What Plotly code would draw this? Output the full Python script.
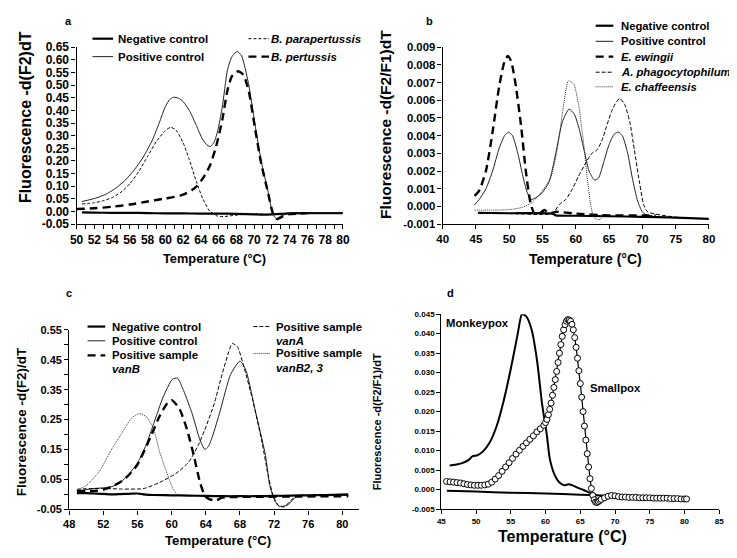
import plotly.graph_objects as go

FONT = "Liberation Sans, Arial, sans-serif"

# ---------------- Panel a ----------------
a_neg_x = [50.6, 52, 54, 56, 58, 60, 62, 64, 66, 68, 70, 71, 72, 73, 74, 76, 78, 80]
a_neg_y = [-0.003, -0.004, -0.005, -0.005, -0.006, -0.007, -0.007, -0.008, -0.008, -0.009,
           -0.011, -0.012, -0.011, -0.009, -0.007, -0.006, -0.006, -0.006]
a_pos_x = [50.6, 51.5, 52.5, 53.5, 54.5, 55.5, 56.5, 57.5, 58.5, 59.3, 60.0, 60.5, 60.9, 61.5,
           62.0, 62.7, 63.5, 64.2, 64.8, 65.1, 65.5, 65.9, 66.4, 67.0, 67.5, 68.1, 68.6, 69.0,
           69.4, 70.1, 70.8, 71.6, 72.1, 72.5, 73.0, 74.0, 75.0, 76, 78, 80]
a_pos_y = [0.040, 0.047, 0.057, 0.072, 0.095, 0.125, 0.165, 0.215, 0.280, 0.350, 0.415, 0.443,
           0.452, 0.448, 0.435, 0.400, 0.340, 0.285, 0.260, 0.258, 0.275, 0.320, 0.410, 0.560,
           0.612, 0.633, 0.615, 0.565, 0.500, 0.345, 0.200, 0.075, -0.010, -0.027, -0.018,
           -0.006, -0.004, -0.005, -0.005, -0.006]
a_para_x = [50.6, 52, 53, 54, 55, 56, 57, 58, 59, 60, 60.6, 61.2, 62, 62.7, 63.5, 64.2, 65.0,
            65.8, 66.5, 67.5, 68.5, 69.5, 70.5, 71.5, 72.2, 72.7, 73.3, 74, 75, 76]
a_para_y = [0.030, 0.035, 0.043, 0.055, 0.077, 0.110, 0.158, 0.218, 0.278, 0.320, 0.333, 0.322,
            0.272, 0.205, 0.118, 0.052, 0.002, -0.017, -0.020, -0.016, -0.012, -0.010, -0.010,
            -0.011, -0.010, -0.009, -0.008, -0.007, -0.006, -0.006]
a_pert_x = [50.0, 52, 54, 56, 58, 60, 61, 62, 63, 63.6, 64.2, 65.0, 65.7, 66.4, 67.0, 67.5, 68.2,
            68.8, 69.4, 70.1, 70.8, 71.6, 72.1, 72.6, 73.2, 74.0, 75, 76]
a_pert_y = [0.010, 0.013, 0.019, 0.028, 0.040, 0.052, 0.058, 0.067, 0.085, 0.103, 0.130, 0.180,
            0.255, 0.360, 0.480, 0.535, 0.555, 0.540, 0.475, 0.330, 0.190, 0.070, -0.005,
            -0.030, -0.020, -0.010, -0.008, -0.006]

# ---------------- Panel b ----------------
b_neg_x = [45.3, 50, 56.5, 57.0, 60, 65, 70, 75, 80]
b_neg_y = [-0.00035, -0.00038, -0.00040, -0.00050, -0.00052, -0.00055, -0.00058, -0.00063, -0.00070]
b_pos_x = [44.8, 45.5, 46.5, 47.5, 48.5, 49.3, 49.9, 50.5, 51.3, 52.0, 52.7, 53.3, 54.0, 55.0,
           56.0, 57.0, 58.0, 59.0, 59.8, 60.5, 61.3, 62.0, 62.8, 63.4, 64.2, 65.0, 65.8, 66.4,
           67.0, 67.8, 68.5, 69.3, 70.0, 70.7, 71.5]
b_pos_y = [0.0001, 0.0004, 0.0010, 0.0020, 0.0033, 0.0040, 0.0042, 0.0040, 0.0030, 0.0018,
           0.0008, 0.0004, 0.0005, 0.0008, 0.0014, 0.0030, 0.0048, 0.0055, 0.0052, 0.0044,
           0.0031, 0.0020, 0.0015, 0.0016, 0.0025, 0.0035, 0.0041, 0.0042, 0.0040, 0.0030,
           0.0016, 0.0003, -0.0003, -0.0005, -0.0005]
b_ewi_x = [44.8, 45.5, 46.5, 47.5, 48.5, 49.3, 49.8, 50.3, 51.0, 51.8, 52.5, 53.2, 53.8, 54.5,
           55.3, 56.0, 57.0, 60, 65, 70, 72]
b_ewi_y = [0.0006, 0.0009, 0.0020, 0.0042, 0.0068, 0.0082, 0.0085, 0.0082, 0.0068, 0.0045,
           0.0020, 0.0002, -0.0004, -0.0004, -0.0002, -0.0004, -0.0003, -0.0004, -0.0005,
           -0.0005, -0.0005]
b_pha_x = [45.5, 50, 55, 56.5, 57.5, 58.5, 59.5, 60.4, 61.4, 62.4, 63.2, 63.9, 64.6, 65.4, 66.1,
           66.6, 67.3, 68.1, 68.8, 69.6, 70.2, 70.8, 75, 80]
b_pha_y = [-0.0004, -0.0004, -0.00045, -0.0004, 0.0001, 0.0004, 0.0010, 0.0017, 0.0024, 0.0030,
           0.0032, 0.0037, 0.0045, 0.0054, 0.0059, 0.0061, 0.0058, 0.0048, 0.0032, 0.0013,
           0.0001, -0.0003, -0.0006, -0.0007]
b_cha_x = [44.8, 48.6, 50.6, 52.1, 53.5, 55.0, 56.3, 57.2, 58.2, 58.9, 59.7, 60.4, 61.2, 61.7,
           62.2, 62.7, 63.4, 63.8, 64.0]
b_cha_y = [-0.0002, -0.0002, -0.00015, -0.00003, 0.00025, 0.0009, 0.0017, 0.0032, 0.0058,
           0.0071, 0.0069, 0.0058, 0.0035, 0.0017, 0.0002, -0.0006, -0.00075, -0.0007, -0.0004]

# ---------------- Panel c ----------------
c_neg_x = [48.9, 50, 51, 52, 53, 54, 55, 56, 57, 58, 60, 62, 64, 66, 68, 70, 72, 74, 76, 78, 80.7]
c_neg_y = [0.004, 0.004, 0.003, 0.002, 0.000, 0.001, 0.002, 0.003, -0.001, -0.002, -0.003,
           -0.004, -0.005, -0.006, -0.006, -0.006, -0.005, -0.004, -0.003, -0.002, 0.000]
c_pos_x = [48.9, 50, 51, 52, 53, 54, 55, 56, 57, 58, 59, 60.1, 60.7, 61.4, 62.4, 63.3, 63.9,
           64.3, 64.8, 65.7, 66.9, 68.0, 68.7, 69.8, 71.0, 71.5, 72.1, 72.6, 73.6, 74.7, 75.4,
           78, 80.7]
c_pos_y = [0.012, 0.016, 0.020, 0.022, 0.026, 0.040, 0.068, 0.105, 0.165, 0.245, 0.325, 0.385,
           0.388, 0.347, 0.270, 0.184, 0.150, 0.160, 0.195, 0.280, 0.400, 0.445, 0.415, 0.280,
           0.130, 0.030, -0.022, -0.040, -0.035, -0.005, -0.003, -0.004, -0.003]
c_vanb_x = [48.9, 50, 51, 52, 53, 54.2, 55, 56, 57.5, 58.6, 59.5, 60.0, 60.9, 61.8, 62.6, 63.3,
            63.9, 64.4, 65.2, 65.9, 66.5, 70, 75, 80.7]
c_vanb_y = [0.010, 0.011, 0.012, 0.016, 0.026, 0.045, 0.065, 0.100, 0.190, 0.262, 0.305, 0.315,
            0.287, 0.217, 0.130, 0.043, -0.005, -0.016, -0.020, -0.011, -0.009, -0.008,
            -0.007, -0.006]
c_vana_x = [48.9, 50, 52, 54, 56, 56.8, 58.6, 60.5, 62, 63.1, 63.9, 65, 65.9, 66.7, 67.1, 67.7,
            68.5, 69.5, 70.6, 71.3, 71.9, 72.5, 73.2, 73.9, 74.7, 77, 80.7]
c_vana_y = [0.017, 0.019, 0.020, 0.018, 0.018, 0.020, 0.040, 0.070, 0.108, 0.163, 0.217, 0.304,
            0.400, 0.477, 0.504, 0.494, 0.423, 0.315, 0.173, 0.065, -0.005, -0.036, -0.042,
            -0.022, -0.005, -0.003, -0.003]
c_vanb23_x = [48.9, 50, 51.5, 53, 54.2, 55.3, 56.2, 57.1, 57.9, 58.6, 59.4, 60.1, 60.6]
c_vanb23_y = [0.015, 0.030, 0.076, 0.152, 0.206, 0.255, 0.270, 0.258, 0.217, 0.141, 0.076,
              0.022, 0.000]

# ---------------- Panel d ----------------
d_neg_x = [45.8, 50, 55, 60, 65, 68, 70]
d_neg_y = [-0.0003, -0.0005, -0.0008, -0.0010, -0.0013, -0.0015, -0.0016]
d_mon_x = [46.2, 47, 48, 49, 49.5, 50.2, 51, 52, 53, 54, 55, 56, 56.6, 57.2, 58, 58.8, 59.5,
           60.2, 60.6, 61.3, 62, 62.7, 63.3, 63.9, 64.6, 65.5, 66.2, 67]
d_mon_y = [0.0062, 0.0064, 0.0068, 0.0077, 0.0086, 0.0088, 0.0098, 0.0122, 0.0165, 0.023,
           0.031, 0.040, 0.045, 0.0445, 0.041, 0.0328, 0.022, 0.0138, 0.008, 0.0038, 0.0018,
           0.0011, 0.0014, 0.0011, 0.0005, -0.0001, -0.0007, -0.0012]
d_sp_x = [45.75, 46.25, 46.75, 47.25, 47.75, 48.25, 48.75, 49.25, 49.75, 50.25, 50.75, 51.25,
          51.75, 52.25, 52.75, 53.25, 53.75, 54.25, 54.75, 55.25, 55.75, 56.25, 56.75, 57.25,
          57.75, 58.25, 58.75, 59.25, 59.75,
          60.0, 60.2, 60.4, 60.6, 60.8, 61.0, 61.2, 61.4, 61.6, 61.8, 62.0, 62.2, 62.4, 62.6,
          62.8, 63.0, 63.2, 63.4, 63.6, 63.8, 64.0, 64.2, 64.4, 64.6, 64.8, 65.0, 65.2, 65.4,
          65.6, 65.8, 66.0, 66.2, 66.4, 66.6, 66.8, 67.0, 67.2, 67.4, 67.6, 67.8, 68.0,
          68.5, 69.0, 69.5, 70.0, 70.5, 71.0, 71.5, 72.0, 72.5, 73.0, 73.5, 74.0, 74.5, 75.0,
          75.5, 76.0, 76.5, 77.0, 77.5, 78.0, 78.5, 79.0, 79.5, 80.0, 80.3]
d_sp_y = [0.0021, 0.0020, 0.0019, 0.0018, 0.0017, 0.0015, 0.0013, 0.0012, 0.0011, 0.0011,
          0.0011, 0.0012, 0.0014, 0.0019, 0.0027, 0.0036, 0.0047, 0.0058, 0.0069, 0.0080,
          0.0091, 0.0101, 0.0111, 0.0120, 0.0129, 0.0138, 0.0148, 0.0156, 0.0165,
          0.0172, 0.0180, 0.0192, 0.0206, 0.0222, 0.0242, 0.0262, 0.0282, 0.0303, 0.0326,
          0.0350, 0.0372, 0.0393, 0.0410, 0.0423, 0.0432, 0.0436, 0.0435, 0.0432, 0.0424,
          0.0410, 0.0390, 0.0365, 0.0337, 0.0305, 0.0272, 0.0237, 0.0200, 0.0163, 0.0127,
          0.0092, 0.0058, 0.0028, 0.0003, -0.0015, -0.0026, -0.0032, -0.0033, -0.0031,
          -0.0028, -0.0025,
          -0.0021, -0.0017, -0.0015, -0.0016, -0.0018, -0.0019, -0.0019, -0.0020, -0.0020,
          -0.0020, -0.0021, -0.0021, -0.0021, -0.0021, -0.0022, -0.0022, -0.0022, -0.0022,
          -0.0022, -0.0023, -0.0023, -0.0023, -0.0024, -0.0024, -0.0024]

# ---------------- Tick labels ----------------
a_xtick_vals = list(range(50, 81))
a_xtick_text = [str(v) if v % 2 == 0 else "" for v in a_xtick_vals]
a_ytick_vals = [-0.05, 0.0, 0.05, 0.10, 0.15, 0.20, 0.25, 0.30, 0.35, 0.40, 0.45, 0.50, 0.55, 0.60, 0.65]
a_ytick_text = ["-0.05", "0.00", "0.05", "0.10", "0.15", "0.20", "0.25", "0.30", "0.35", "0.40",
                "0.45", "0.50", "0.55", "0.60", "0.65"]
b_xtick_vals = [40, 45, 50, 55, 60, 65, 70, 75, 80]
b_ytick_vals = [-0.001, 0.0, 0.001, 0.002, 0.003, 0.004, 0.005, 0.006, 0.007, 0.008, 0.009]
b_ytick_text = ["-0.001", "0.000", "0.001", "0.002", "0.003", "0.004", "0.005", "0.006",
                "0.007", "0.008", "0.009"]
c_xtick_vals = [48, 52, 56, 60, 64, 68, 72, 76, 80]
c_ytick_vals = [-0.05, 0.0, 0.05, 0.10, 0.15, 0.20, 0.25, 0.30, 0.35, 0.40, 0.45, 0.50, 0.55]
c_ytick_text = ["-0.05", "", "0.05", "", "0.15", "", "0.25", "", "0.35", "", "0.45", "", "0.55"]
d_xtick_vals = [45, 50, 55, 60, 65, 70, 75, 80, 85]
d_ytick_vals = [-0.005, 0.0, 0.005, 0.010, 0.015, 0.020, 0.025, 0.030, 0.035, 0.040, 0.045]
d_ytick_text = ["-0.005", "0.000", "0.005", "0.010", "0.015", "0.020", "0.025", "0.030",
                "0.035", "0.040", "0.045"]

# ---------------- Legend entries ----------------
a_leg1 = ["Negative control", "Positive control"]
a_leg2 = ["<i>B. parapertussis</i>", "<i>B. pertussis</i>"]
b_leg = ["Negative control", "Positive control", "<i>E. ewingii</i>",
         "<i>A. phagocytophilum</i>", "<i>E. chaffeensis</i>"]
c_leg1 = [["Negative control"], ["Positive control"], ["Positive sample", "<i>vanB</i>"]]
c_leg2 = [["Positive sample", "<i>vanA</i>"], ["Positive sample", "<i>vanB2, 3</i>"]]

NEG = dict(width=2.2, dash="solid", color="black")
POS = dict(width=1.0, dash="solid", color="#222")
THICKDASH = dict(width=2.4, dash="8px,5px", color="black")
THINDASH = dict(width=1.0, dash="4px,2px", color="black")
FINEDASH = dict(width=1.0, dash="3px,2px", color="black")
DOT = dict(width=1.0, dash="1px,1px", color="#333")

fig = go.Figure()

def add(x, y, name, xa, ya, style):
    fig.add_trace(go.Scatter(
        x=x, y=y, name=name, mode="lines", xaxis=xa, yaxis=ya, showlegend=False,
        line=dict(shape="spline", smoothing=0.6, **style)))

add(a_neg_x, a_neg_y, "Negative control", "x", "y", NEG)
add(a_pos_x, a_pos_y, "Positive control", "x", "y", POS)
add(a_para_x, a_para_y, "B. parapertussis", "x", "y", FINEDASH)
add(a_pert_x, a_pert_y, "B. pertussis", "x", "y", THICKDASH)
add(b_neg_x, b_neg_y, "Negative control", "x2", "y2", NEG)
add(b_pos_x, b_pos_y, "Positive control", "x2", "y2", POS)
add(b_ewi_x, b_ewi_y, "E. ewingii", "x2", "y2", THICKDASH)
add(b_pha_x, b_pha_y, "A. phagocytophilum", "x2", "y2", THINDASH)
add(b_cha_x, b_cha_y, "E. chaffeensis", "x2", "y2", DOT)
add(c_neg_x, c_neg_y, "Negative control", "x3", "y3", NEG)
add(c_pos_x, c_pos_y, "Positive control", "x3", "y3", POS)
add(c_vanb_x, c_vanb_y, "Positive sample vanB", "x3", "y3", THICKDASH)
add(c_vana_x, c_vana_y, "Positive sample vanA", "x3", "y3", THINDASH)
add(c_vanb23_x, c_vanb23_y, "Positive sample vanB2, 3", "x3", "y3", DOT)
add(d_neg_x, d_neg_y, "Negative control", "x4", "y4", dict(width=2.0, dash="solid", color="black"))
add(d_mon_x, d_mon_y, "Monkeypox", "x4", "y4", dict(width=2.0, dash="solid", color="black"))
fig.add_trace(go.Scatter(
    x=d_sp_x, y=d_sp_y, name="Smallpox", mode="lines+markers", xaxis="x4", yaxis="y4",
    showlegend=False, line=dict(color="black", width=1.2),
    marker=dict(symbol="circle", size=6, color="white", line=dict(width=1, color="black"))))

# The page body adds an 8 px offset; lay the figure out in page pixels.
OX, OY = 8.0, 8.0
W, H = 729.0, 550.0
def px(x):
    return (x - OX) / W
def py(y):
    return 1 - (y - OY) / H
def dx(a, b):
    return [px(a), px(b)]
def dy(top, bottom):
    return [py(bottom), py(top)]

def bold(lst):
    return ["<b>%s</b>" % s if s else "" for s in lst]

def axis(domain, anchor, rng, tickvals, ticktext, fs):
    return dict(domain=domain, anchor=anchor, range=rng, tickvals=tickvals,
                ticktext=bold(ticktext), showline=True, linecolor="black", linewidth=1.3,
                ticks="outside", ticklen=4, tickwidth=1.2, tickcolor="black", showgrid=False,
                zeroline=False, tickfont=dict(family=FONT, size=fs, color="black", weight="bold"),
                fixedrange=True)

fig.update_layout(
    width=int(W), height=int(H), margin=dict(l=0, r=0, t=0, b=0),
    paper_bgcolor="white", plot_bgcolor="white", showlegend=False,
    font=dict(family=FONT, color="black"),
    xaxis=axis(dx(70.8, 342.3), "y", [50, 80], a_xtick_vals, a_xtick_text, 12),
    yaxis=axis(dy(41, 222.7), "x", [-0.05, 0.65], a_ytick_vals, a_ytick_text, 12),
    xaxis2=axis(dx(444, 715.5), "y2", [40, 80], b_xtick_vals, [str(v) for v in b_xtick_vals], 11.5),
    yaxis2=axis(dy(41, 222.7), "x2", [-0.001, 0.009], b_ytick_vals, b_ytick_text, 11.3),
    xaxis3=axis(dx(63.3, 359.1), "y3", [48, 82], c_xtick_vals, [str(v) for v in c_xtick_vals], 11),
    yaxis3=axis(dy(331, 515.3), "x3", [-0.05, 0.55], c_ytick_vals, c_ytick_text, 11),
    xaxis4=axis(dx(442.7, 726), "y4", [45, 85], d_xtick_vals, [str(v) for v in d_xtick_vals], 8),
    yaxis4=axis(dy(315, 515), "x4", [-0.005, 0.045], d_ytick_vals, d_ytick_text, 8),
)

ann = []
shapes = []
def text(x, y, s, size, xanchor="center", yanchor="middle", angle=0, data=False):
    if data:
        xr, yr, xv, yv = "x4", "y4", x, y
    else:
        xr, yr, xv, yv = "paper", "paper", px(x), py(y)
    ann.append(dict(x=xv, y=yv, xref=xr, yref=yr, text=s, showarrow=False, textangle=angle,
                    xanchor=xanchor, yanchor=yanchor, borderpad=0,
                    font=dict(family=FONT, size=size, color="black")))

def legend_block(entries, styles, x0, x1, xt, ys, fs=11.5, gap=13.5):
    for lines, st, y in zip(entries, styles, ys):
        if isinstance(lines, str):
            lines = [lines]
        shapes.append(dict(type="line", xref="paper", yref="paper", x0=px(x0), x1=px(x1),
                           y0=py(y), y1=py(y),
                           line=dict(color=st["color"], width=st["width"], dash=st["dash"])))
        for k, ln in enumerate(lines):
            text(xt, y + k * gap, "<b>%s</b>" % ln, fs, xanchor="left")

legend_block(a_leg1, [NEG, POS], 87, 108, 112, [32.3, 50.7])
legend_block(a_leg2, [FINEDASH, THICKDASH], 246, 267, 268, [32.3, 50.7])
legend_block(b_leg, [NEG, POS, THICKDASH, THINDASH, DOT], 600, 618, 625,
             [19, 35, 50.7, 66.7, 81.7], fs=11.3)
legend_block(c_leg1, [NEG, POS, THICKDASH], 82, 100, 106, [327.7, 342.3, 357.3], fs=11.4)
legend_block(c_leg2, [THINDASH, DOT], 251, 268, 273, [327.7, 355.3], fs=11.4, gap=14.5)

# panel letters
text(63, 14, "<b>a</b>", 11)
text(431, 14, "<b>b</b>", 11)
text(63, 293, "<b>c</b>", 11)
text(452, 293, "<b>d</b>", 11)
# x titles
text(211, 258, "<b>Temperature (°C)</b>", 12.8)
text(590, 258, "<b>Temperature (°C)</b>", 14)
text(215, 547, "<b>Temperature (°C)</b>", 13.2)
text(566, 543, "<b>Temperature (°C)</b>", 16)
# y titles
text(19, 113, "<b>Fluorescence -d(F2)dT</b>", 16, angle=-90)
text(385, 120, "<b>Fluorescence -d(F2/F1)dT</b>", 15.5, angle=-90)
text(15, 425, "<b>Fluorescence -d(F2)/dT</b>", 13.5, angle=-90)
text(377, 425, "<b>Fluorescence -d(F2/F1)/dT</b>", 11, angle=-90)
# panel d labels
text(45.5, 0.0428, "<b>Monkeypox</b>", 11.3, xanchor="left", data=True)
text(66.2, 0.026, "<b>Smallpox</b>", 11.3, xanchor="left", data=True)
fig.update_layout(annotations=ann, shapes=shapes)

fig.write_html("out.html")
